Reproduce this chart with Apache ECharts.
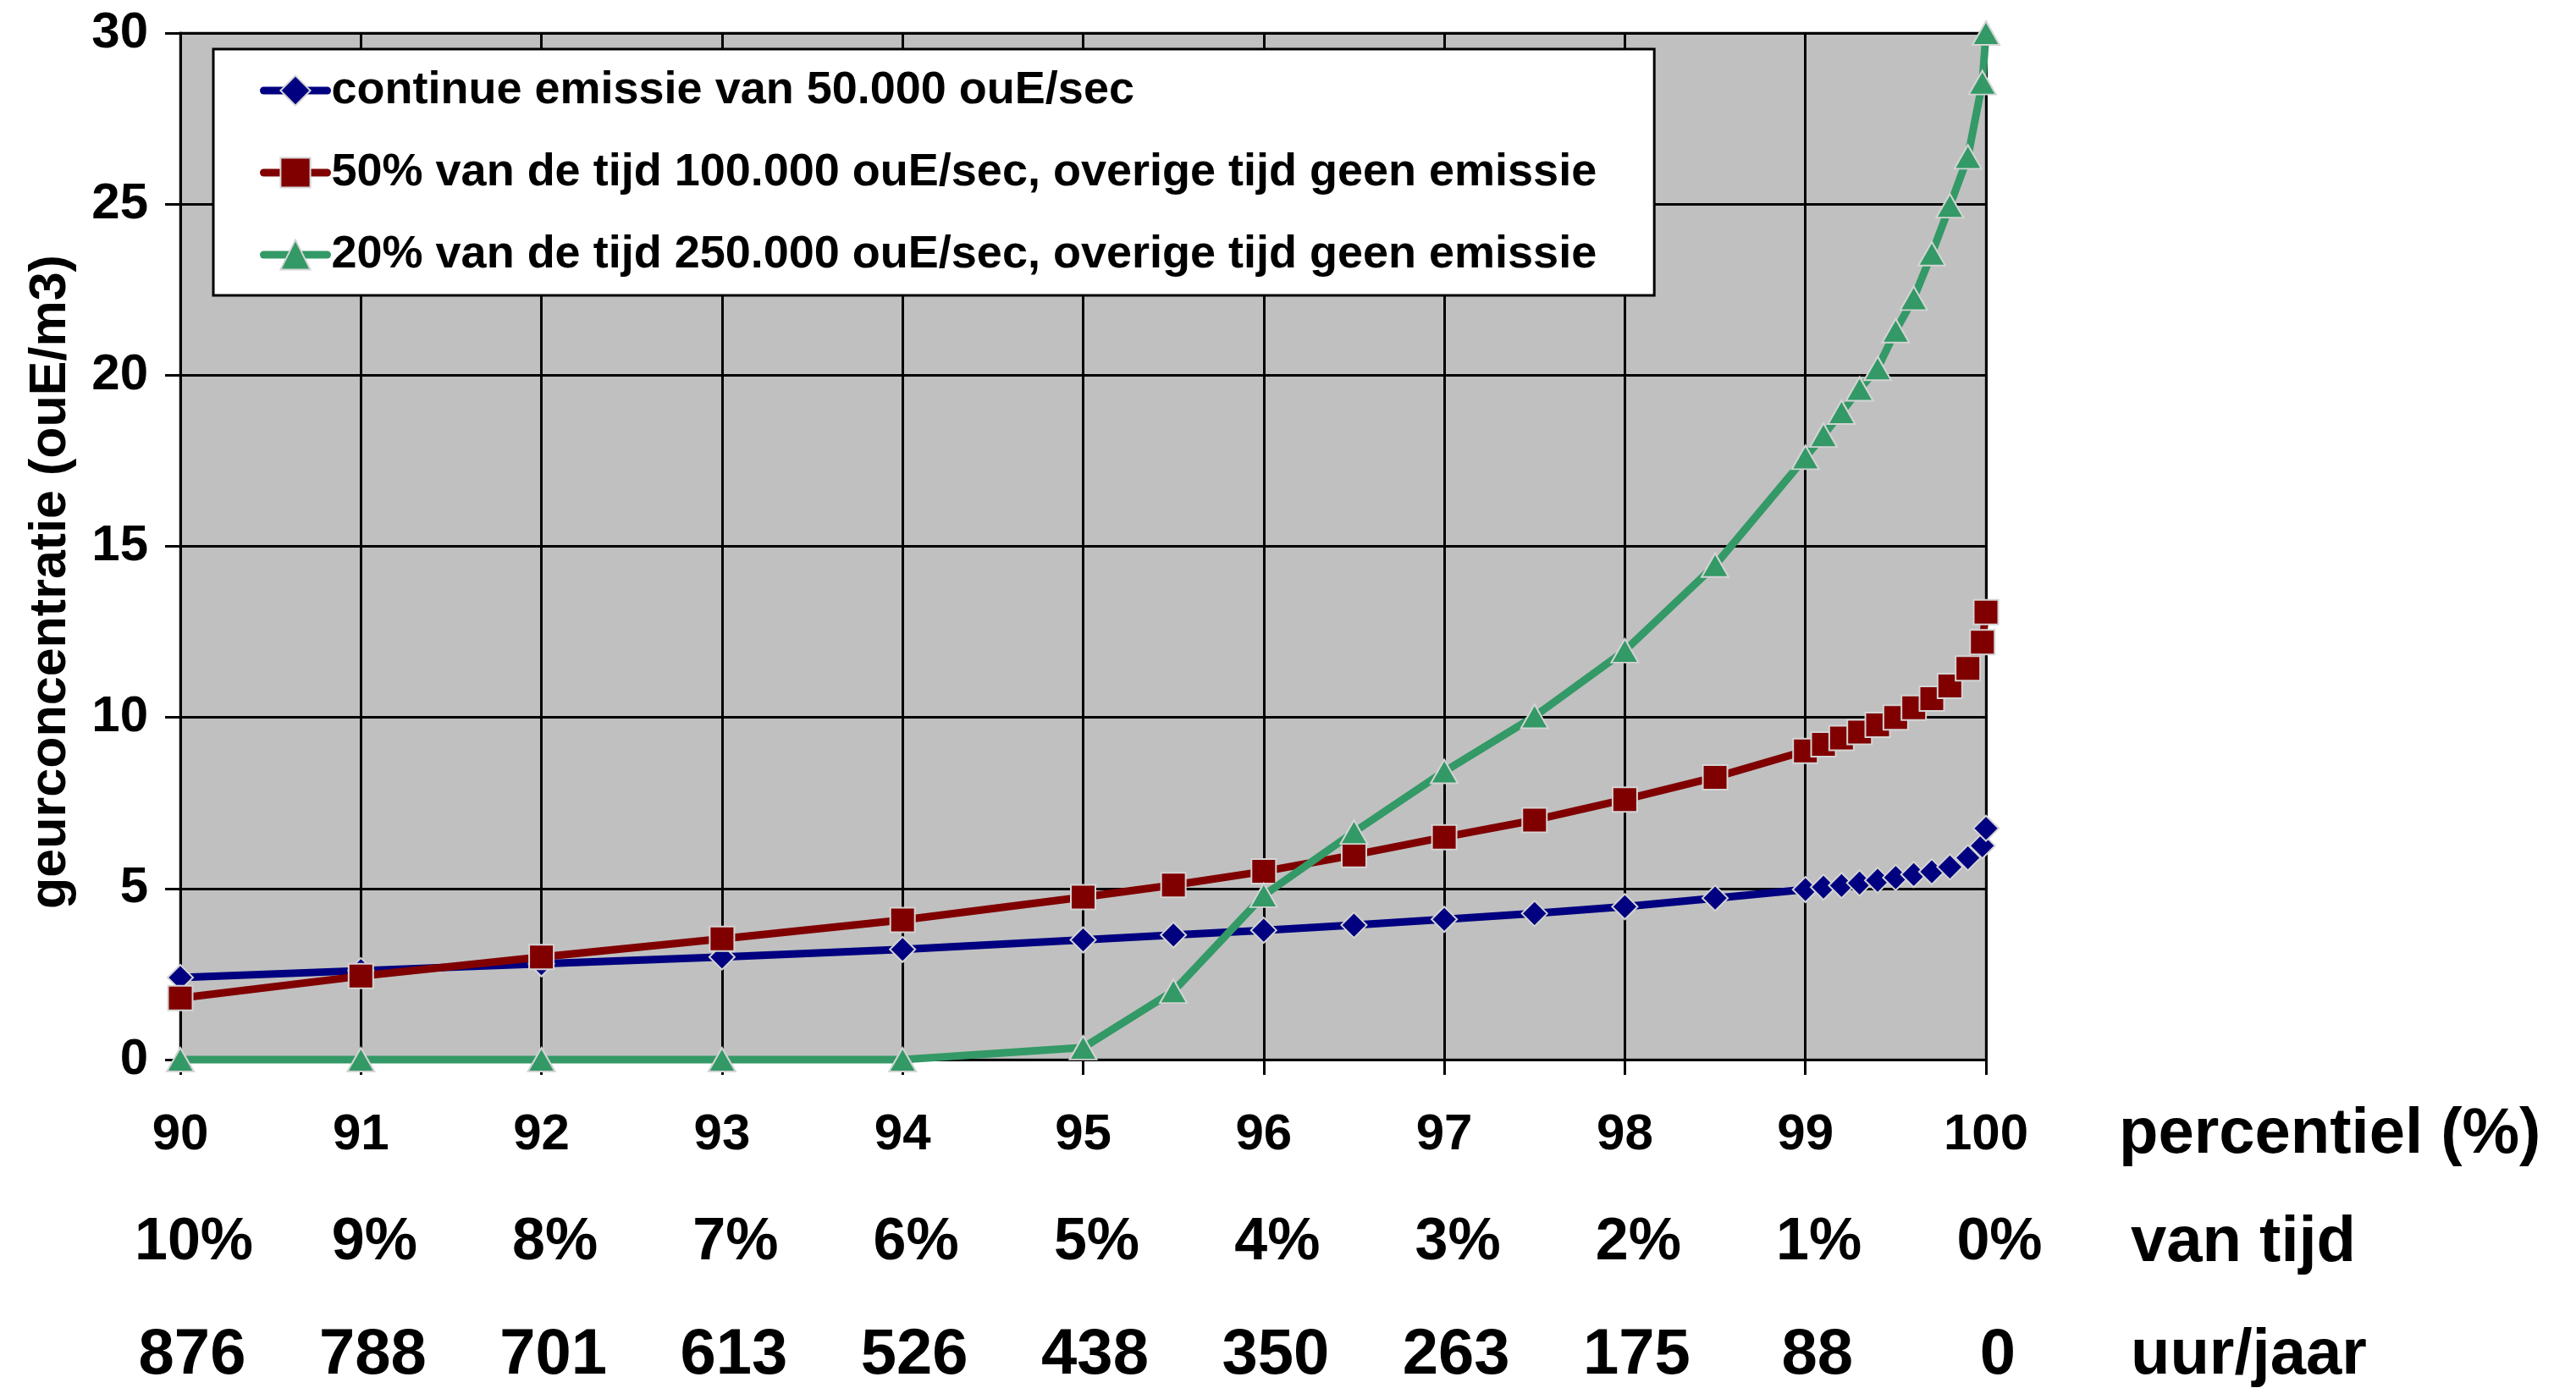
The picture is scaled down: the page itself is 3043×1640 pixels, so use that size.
<!DOCTYPE html>
<html>
<head>
<meta charset="utf-8">
<title>geurconcentratie per percentiel</title>
<script src="https://cdn.jsdelivr.net/npm/echarts@6/dist/echarts.min.js"></script>
<style>
  html, body { margin: 0; padding: 0; background: #fff; }
  #chart { width: 3043px; height: 1640px; }
</style>
</head>
<body>
<div id="chart"></div>
<script>
// percentiel waarden (x)
const percentiel = [90, 91, 92, 93, 94, 95, 95.5, 96, 96.5, 97, 97.5, 98, 98.5,
  99, 99.1, 99.2, 99.3, 99.4, 99.5, 99.6, 99.7, 99.8, 99.9, 99.98, 100]

// geurconcentratie (ouE/m3) per scenario
const continu = [2.4, 2.6, 2.8, 3.0, 3.22, 3.5, 3.64, 3.78, 3.93, 4.1, 4.27, 4.47, 4.72,
  4.97, 5.04, 5.09, 5.16, 5.24, 5.32, 5.41, 5.49, 5.63, 5.9, 6.25, 6.76]
const halfTijd = [1.8, 2.44, 3.0, 3.53, 4.08, 4.75, 5.1, 5.5, 5.98, 6.5, 7.0, 7.6, 8.25,
  9.02, 9.21, 9.4, 9.57, 9.78, 10.0, 10.28, 10.55, 10.92, 11.43, 12.2, 13.08]
const twintigTijd = [0, 0, 0, 0, 0, 0.35, 2.0, 4.8, 6.65, 8.42, 10.03, 11.95, 14.45,
  17.6, 18.25, 18.92, 19.6, 20.2, 21.3, 22.25, 23.55, 24.95, 26.38, 28.55, 30]

const seriesNames = [
  'continue emissie van 50.000 ouE/sec',
  '50% van de tijd 100.000 ouE/sec, overige tijd geen emissie',
  '20% van de tijd 250.000 ouE/sec, overige tijd geen emissie'
]

// as-labels (drie rijen onder de x-as)
const percentielLabels = ['90', '91', '92', '93', '94', '95', '96', '97', '98', '99', '100']
const vanTijdLabels = ['10%', '9%', '8%', '7%', '6%', '5%', '4%', '3%', '2%', '1%', '0%']
const uurJaarLabels = ['876', '788', '701', '613', '526', '438', '350', '263', '175', '88', '0']
const rowNames = ['percentiel (%)', 'van tijd', 'uur/jaar']

const FONT = "'Liberation Sans', Arial, sans-serif"

function pairs(ys) {
  return percentiel.map((x, i) => [x, ys[i]])
}

function labelAxis(labels, offset, fontSize, name, nameGap, shift) {
  return {
    type: 'value',
    gridIndex: 0,
    position: 'bottom',
    min: 90,
    max: 100,
    interval: 1,
    offset: offset,
    axisLine: { show: false },
    axisTick: { show: false },
    splitLine: { show: false },
    axisLabel: {
      margin: 0,
      verticalAlign: 'middle',
      color: '#000',
      fontFamily: FONT,
      fontWeight: 'bold',
      fontSize: fontSize,
      padding: [0, 0, 0, shift],
      formatter: (v) => labels[Math.round(v - 90)]
    },
    name: name,
    nameLocation: 'end',
    nameGap: nameGap,
    nameTextStyle: {
      color: '#000',
      fontFamily: FONT,
      fontWeight: 'bold',
      fontSize: 76,
      align: 'left',
      verticalAlign: 'middle'
    }
  }
}

const chart = echarts.init(document.getElementById('chart'))

const markerBorder = { borderColor: '#d4d4d4', borderWidth: 2 }

chart.setOption({
  animation: false,
  backgroundColor: '#fff',
  grid: {
    left: 213,
    right: 697,
    top: 39,
    bottom: 384,
    show: true,
    backgroundColor: '#c0c0c0',
    borderColor: '#808080',
    borderWidth: 3
  },
  legend: {
    orient: 'vertical',
    left: 252,
    top: 58,
    padding: [17, 68, 16, 55],
    itemWidth: 75,
    itemHeight: 44,
    itemGap: 33,
    backgroundColor: '#fff',
    borderColor: '#000',
    borderWidth: 3,
    lineStyle: { width: 9, cap: 'round' },
    textStyle: {
      color: '#000',
      fontFamily: FONT,
      fontWeight: 'bold',
      fontSize: 54,
      lineHeight: 64
    },
    data: seriesNames
  },
  xAxis: [
    {
      type: 'value',
      gridIndex: 0,
      position: 'bottom',
      min: 90,
      max: 100,
      interval: 1,
      axisLine: { lineStyle: { color: '#000', width: 3 } },
      axisTick: { show: true, inside: false, length: 18, lineStyle: { color: '#000', width: 3 } },
      splitLine: { show: true, lineStyle: { color: '#000', width: 3 } },
      axisLabel: { show: false }
    },
    labelAxis(percentielLabels, 89, 60, rowNames[0], 157, 0),
    labelAxis(vanTijdLabels, 217, 70, rowNames[1], 171, 32),
    labelAxis(uurJaarLabels, 350, 76, rowNames[2], 171, 28)
  ],
  yAxis: {
    type: 'value',
    min: 0,
    max: 30,
    interval: 5,
    axisLine: { show: true, lineStyle: { color: '#000', width: 3 } },
    axisTick: { show: true, inside: false, length: 18, lineStyle: { color: '#000', width: 3 } },
    splitLine: { show: true, lineStyle: { color: '#000', width: 3 } },
    axisLabel: {
      margin: 38,
      color: '#000',
      fontFamily: FONT,
      fontWeight: 'bold',
      fontSize: 60
    },
    name: 'geurconcentratie (ouE/m3)',
    nameLocation: 'middle',
    nameRotate: 90,
    nameGap: 122,
    nameTextStyle: {
      color: '#000',
      fontFamily: FONT,
      fontWeight: 'bold',
      fontSize: 61,
      padding: [0, 84, 0, 0]
    }
  },
  series: [
    {
      name: seriesNames[0],
      type: 'line',
      xAxisIndex: 0,
      data: pairs(continu),
      symbol: 'diamond',
      symbolSize: [30, 30],
      clip: false,
      lineStyle: { color: '#000080', width: 9 },
      itemStyle: Object.assign({ color: '#000080' }, markerBorder),
      z: 3
    },
    {
      name: seriesNames[1],
      type: 'line',
      xAxisIndex: 0,
      data: pairs(halfTijd),
      symbol: 'rect',
      symbolSize: [29, 29],
      clip: false,
      lineStyle: { color: '#800000', width: 9 },
      itemStyle: Object.assign({ color: '#800000' }, markerBorder),
      z: 4
    },
    {
      name: seriesNames[2],
      type: 'line',
      xAxisIndex: 0,
      data: pairs(twintigTijd),
      symbol: 'triangle',
      symbolSize: [32, 28],
      clip: false,
      lineStyle: { color: '#339966', width: 9 },
      itemStyle: Object.assign({ color: '#339966' }, markerBorder),
      z: 5
    }
  ]
})
</script>
</body>
</html>
